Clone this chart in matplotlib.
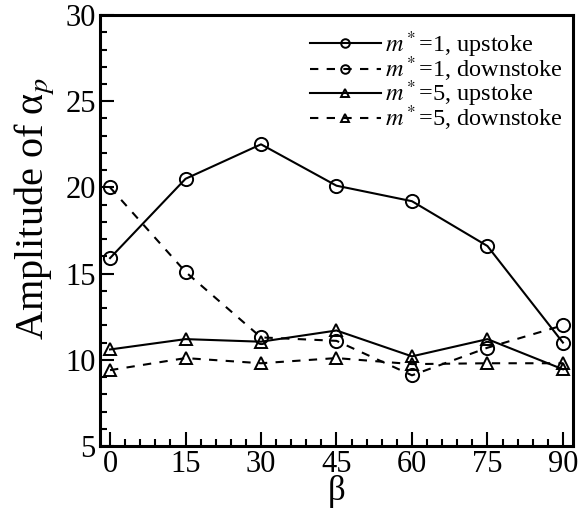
import numpy as np
import matplotlib
matplotlib.use("Agg")
import matplotlib.pyplot as plt
from matplotlib.ticker import MultipleLocator

plt.rcParams['font.family'] = ['Liberation Serif', 'DejaVu Serif']
plt.rcParams['mathtext.fontset'] = 'stix'

# stroke angle beta (deg) and pitch amplitude values
beta = [0, 15, 30, 45, 60, 75, 90]
m1_up = [15.9, 20.5, 22.5, 20.1, 19.2, 16.6, 11.0]
m1_down = [20.0, 15.1, 11.3, 11.1, 9.1, 10.7, 12.0]
m5_up = [10.6, 11.2, 11.05, 11.7, 10.2, 11.2, 9.45]
m5_down = [9.4, 10.1, 9.8, 10.1, 9.75, 9.8, 9.8]

labels = [r'$m^*$=1, upstoke', r'$m^*$=1, downstoke',
          r'$m^*$=5, upstoke', r'$m^*$=5, downstoke']

fig = plt.figure(figsize=(5.79, 5.11), dpi=100)
ax = fig.add_axes([0.1727, 0.1272, 0.8169, 0.8434])

dash = (0, (4, 4))
lw = 1.5
ax.plot(beta, m1_up, '-', color='k', lw=lw, marker='o', ms=9.5,
        mfc='none', mew=1.4, label=labels[0])
ax.plot(beta, m1_down, linestyle=dash, color='k', lw=lw, marker='o', ms=9.5,
        mfc='none', mew=1.4, label=labels[1])
ax.plot(beta, m5_up, '-', color='k', lw=lw, marker='^', ms=8,
        mfc='none', mew=1.4, label=labels[2])
ax.plot(beta, m5_down, linestyle=dash, color='k', lw=lw, marker='^', ms=8,
        mfc='none', mew=1.4, label=labels[3])

ax.set_xlim(-2, 92)
ax.set_ylim(5, 30)
ax.xaxis.set_major_locator(MultipleLocator(15))
ax.xaxis.set_minor_locator(MultipleLocator(3))
ax.yaxis.set_major_locator(MultipleLocator(5))
ax.yaxis.set_minor_locator(MultipleLocator(1))
ax.tick_params(which='both', direction='in', top=False, right=False,
               width=1.5, labelsize=22)
ax.tick_params(which='major', length=10, pad=3)
ax.tick_params(which='minor', length=5)
for s in ax.spines.values():
    s.set_linewidth(2.2)

ax.set_xlabel('β', fontsize=25, labelpad=-3)
ax.set_ylabel('Amplitude of α$_p$', fontsize=29)
ax.yaxis.set_label_coords(-0.09, 0.55)

leg = ax.legend(loc='upper right', bbox_to_anchor=(1.0, 0.99), frameon=False,
                fontsize=17.5, handlelength=2.9, handletextpad=0.2,
                labelspacing=-0.22, borderaxespad=0.0, markerscale=0.65)

fig.savefig('out.png', dpi=100)
